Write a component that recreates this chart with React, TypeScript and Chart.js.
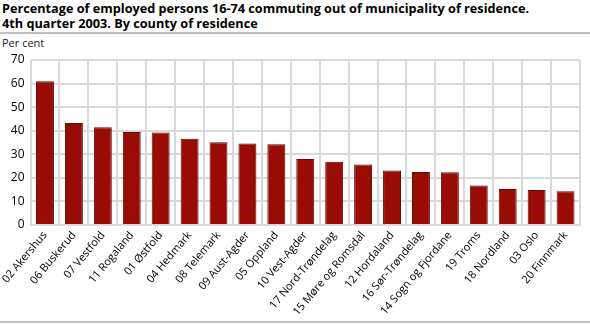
import React, { useEffect, useRef } from "react";
import { Chart, registerables } from "chart.js";

Chart.register(...registerables);

const categories = [
  "02 Akershus",
  "06 Buskerud",
  "07 Vestfold",
  "11 Rogaland",
  "01 Østfold",
  "04 Hedmark",
  "08 Telemark",
  "09 Aust-Agder",
  "05 Oppland",
  "10 Vest-Agder",
  "17 Nord-Trøndelag",
  "15 Møre og Romsdal",
  "12 Hordaland",
  "16 Sør-Trøndelag",
  "14 Sogn og Fjordane",
  "19 Troms",
  "18 Nordland",
  "03 Oslo",
  "20 Finnmark",
];

const values = [61.0, 43.3, 41.5, 39.5, 39.2, 36.6, 35.1, 34.6, 34.3, 28.0, 26.8, 25.7, 23.1, 22.5, 22.4, 16.8, 15.3, 14.9, 14.3];

const yTicks = [0, 10, 20, 30, 40, 50, 60, 70];

const titleLines = [
  "Percentage of employed persons 16-74 commuting out of municipality of residence.",
  "4th quarter 2003. By county of residence",
];
const yAxisLabel = "Per cent";

const FONT = "'Open Sans', 'DejaVu Sans', sans-serif";

export default function App() {
  const canvasRef = useRef<HTMLCanvasElement | null>(null);

  useEffect(() => {
    document.body.style.margin = "0";
    const ctx = canvasRef.current;
    if (!ctx) return;
    const chart = new Chart(ctx, {
      type: "bar",
      data: {
        labels: categories,
        datasets: [
          {
            data: values,
            backgroundColor: "#990c05",
            borderColor: "#5e0a04",
            borderWidth: 1,
            borderSkipped: "bottom",
            barPercentage: 0.62,
            categoryPercentage: 1,
          },
        ],
      },
      options: {
        animation: false,
        responsive: false,
        maintainAspectRatio: false,
        layout: { padding: { top: 60, right: 10, left: 0, bottom: 0 } },
        plugins: { legend: { display: false }, tooltip: { enabled: false }, title: { display: false } },
        scales: {
          x: {
            grid: { display: true, color: "#d9d9d9", lineWidth: 2, drawTicks: false, offset: true },
            border: { display: true, color: "#d9d9d9", width: 2 },
            ticks: {
              font: { family: FONT, size: 11 },
              color: "#000",
              maxRotation: 50,
              minRotation: 50,
              autoSkip: false,
              padding: 4,
            },
            afterFit: (s: any) => {
              s.height = 99;
            },
          },
          y: {
            min: 0,
            max: 70,
            afterBuildTicks: (s: any) => {
              s.ticks = yTicks.map((v) => ({ value: v }));
            },
            grid: { color: "#d9d9d9", lineWidth: 2, drawTicks: false },
            border: { display: false },
            ticks: {
              font: { family: FONT, size: 12 },
              color: "#000",
              padding: 6,
            },
            afterFit: (s: any) => {
              s.width = 23;
            },
          },
        },
      },
    });
    return () => chart.destroy();
  }, []);

  return (
    <div style={{ position: "absolute", left: 0, top: 0, width: 590, height: 324, background: "#fff", fontFamily: FONT, overflow: "hidden" }}>
      <div style={{ position: "absolute", left: 2, top: 1, fontWeight: 700, fontSize: 12.7, lineHeight: "15px", color: "#000", whiteSpace: "nowrap" }}>
        {titleLines.map((t, i) => (
          <div key={i}>{t}</div>
        ))}
      </div>
      <div style={{ position: "absolute", left: 0, top: 32, width: 590, height: 2, background: "#c0c0c0" }} />
      <div style={{ position: "absolute", left: 2, top: 35, fontSize: 11, lineHeight: "15px", color: "#222" }}>{yAxisLabel}</div>
      <canvas ref={canvasRef} width={590} height={324} style={{ position: "absolute", left: 0, top: 0, width: 590, height: 324 }} />
      <div style={{ position: "absolute", left: 0, top: 321, width: 590, height: 2, background: "#c0c0c0" }} />
    </div>
  );
}
